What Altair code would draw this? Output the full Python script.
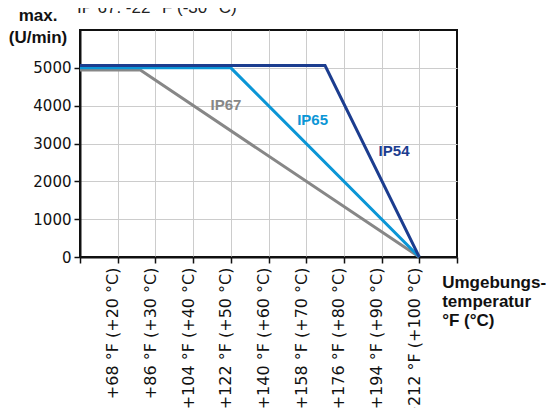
import altair as alt
import pandas as pd

# ---- data ----
temps_c = [10, 20, 30, 40, 50, 60, 70, 80, 90, 100, 110]
tick_labels = ["", "+68 °F (+20 °C)", "+86 °F (+30 °C)", "+104 °F (+40 °C)",
               "+122 °F (+50 °C)", "+140 °F (+60 °C)", "+158 °F (+70 °C)",
               "+176 °F (+80 °C)", "+194 °F (+90 °C)", "+212 °F (+100 °C)", ""]
y_ticks = [0, 1000, 2000, 3000, 4000, 5000]

series_names = ["IP67", "IP65", "IP54"]
ip67_t = [10, 26, 100]
ip67_v = [4940, 4940, 0]
ip65_t = [10, 50, 100]
ip65_v = [5000, 5000, 0]
ip54_t = [10, 75, 100]
ip54_v = [5060, 5060, 0]
series_colors = ["#878787", "#0b96d6", "#1c3d8f"]

label_t = [48.7, 71.7, 93.3]
label_v = [4020, 3610, 2810]

top_note = "IP 67: -22 °F (-30 °C)"

# ---- tables ----
lines = pd.concat([
    pd.DataFrame({"t": ip67_t, "v": ip67_v, "s": "IP67"}),
    pd.DataFrame({"t": ip65_t, "v": ip65_v, "s": "IP65"}),
    pd.DataFrame({"t": ip54_t, "v": ip54_v, "s": "IP54"}),
], ignore_index=True)
labels = pd.DataFrame({"t": label_t, "v": label_v, "s": series_names})

label_array = "[" + ",".join("'" + s + "'" for s in tick_labels) + "]"
label_expr = label_array + "[round((datum.value - 10) / 10)]"

color_scale = alt.Scale(domain=series_names, range=series_colors)

x_enc = alt.X(
    "t:Q",
    scale=alt.Scale(domain=[10, 110], nice=False, zero=False),
    axis=alt.Axis(
        values=temps_c,
        labelExpr=label_expr,
        labelAngle=-90,
        labelAlign="right",
        labelBaseline="alphabetic",
        labelFont="DejaVu Sans",
        labelFontSize=16,
        labelColor="#111111",
        labelPadding=4,
        labelOverlap=False,
        labelFlush=False,
        labelBound=False,
        tickSize=6,
        tickColor="#111111",
        tickWidth=1.5,
        domainColor="#111111",
        domainWidth=2,
        gridColor="#cccccc",
        gridWidth=1,
        gridOpacity={"condition": {"test": "datum.value == 10 || datum.value == 110", "value": 0}, "value": 1},
        title=["Umgebungs-", "temperatur", "°F (°C)"],
        titleFont="Liberation Sans",
        titleFontSize=17,
        titleFontWeight="bold",
        titleColor="#111111",
        titleAngle=0,
        titleAlign="left",
        titleBaseline="alphabetic",
        titleLineHeight=19,
        titleX=361.7,
        titleY=30,
    ),
)

y_enc = alt.Y(
    "v:Q",
    scale=alt.Scale(domain=[0, 6000], nice=False),
    axis=alt.Axis(
        values=y_ticks,
        format="d",
        labelFont="DejaVu Sans",
        labelFontSize=15,
        labelColor="#111111",
        labelPadding=3,
        labelOverlap=False,
        tickSize=6,
        tickColor="#111111",
        tickWidth=1.5,
        domainColor="#111111",
        domainWidth=2,
        gridColor="#cccccc",
        gridWidth=1,
        title=["max.", "(U/min)"],
        titleFont="Liberation Sans",
        titleFontSize=17,
        titleFontWeight="bold",
        titleColor="#111111",
        titleAngle=0,
        titleAlign="center",
        titleBaseline="alphabetic",
        titleLineHeight=22,
        titleX=-42.5,
        titleY=-9.3,
    ),
)

color_enc = alt.Color("s:N", scale=color_scale, legend=None)

layers = []
for name in series_names:
    layers.append(
        alt.Chart(lines)
        .transform_filter(alt.datum.s == name)
        .mark_line(strokeWidth=3, strokeJoin="miter", strokeCap="butt")
        .encode(x=x_enc, y=y_enc, color=color_enc)
    )

text_layer = alt.Chart(labels).mark_text(
    font="Liberation Sans", fontSize=15, fontWeight="bold",
    align="center", baseline="middle"
).encode(x=x_enc, y=y_enc, text="s:N", color=color_enc)

note = alt.Chart(pd.DataFrame({"txt": [top_note]})).mark_text(
    font="Liberation Sans", fontSize=17, align="left", baseline="alphabetic",
    color="#222222"
).encode(x=alt.value(-3), y=alt.value(-17.5), text="txt:N")

chart = alt.layer(*layers, text_layer, note).properties(
    width=377, height=227,
    autosize=alt.AutoSizeParams(type="none"),
    padding={"left": 72, "top": 22, "right": 89, "bottom": 151},
    background="white",
).configure_view(
    stroke="#111111", strokeWidth=2
)

chart.save("out.html", embed_options={"renderer": "svg", "actions": False})
